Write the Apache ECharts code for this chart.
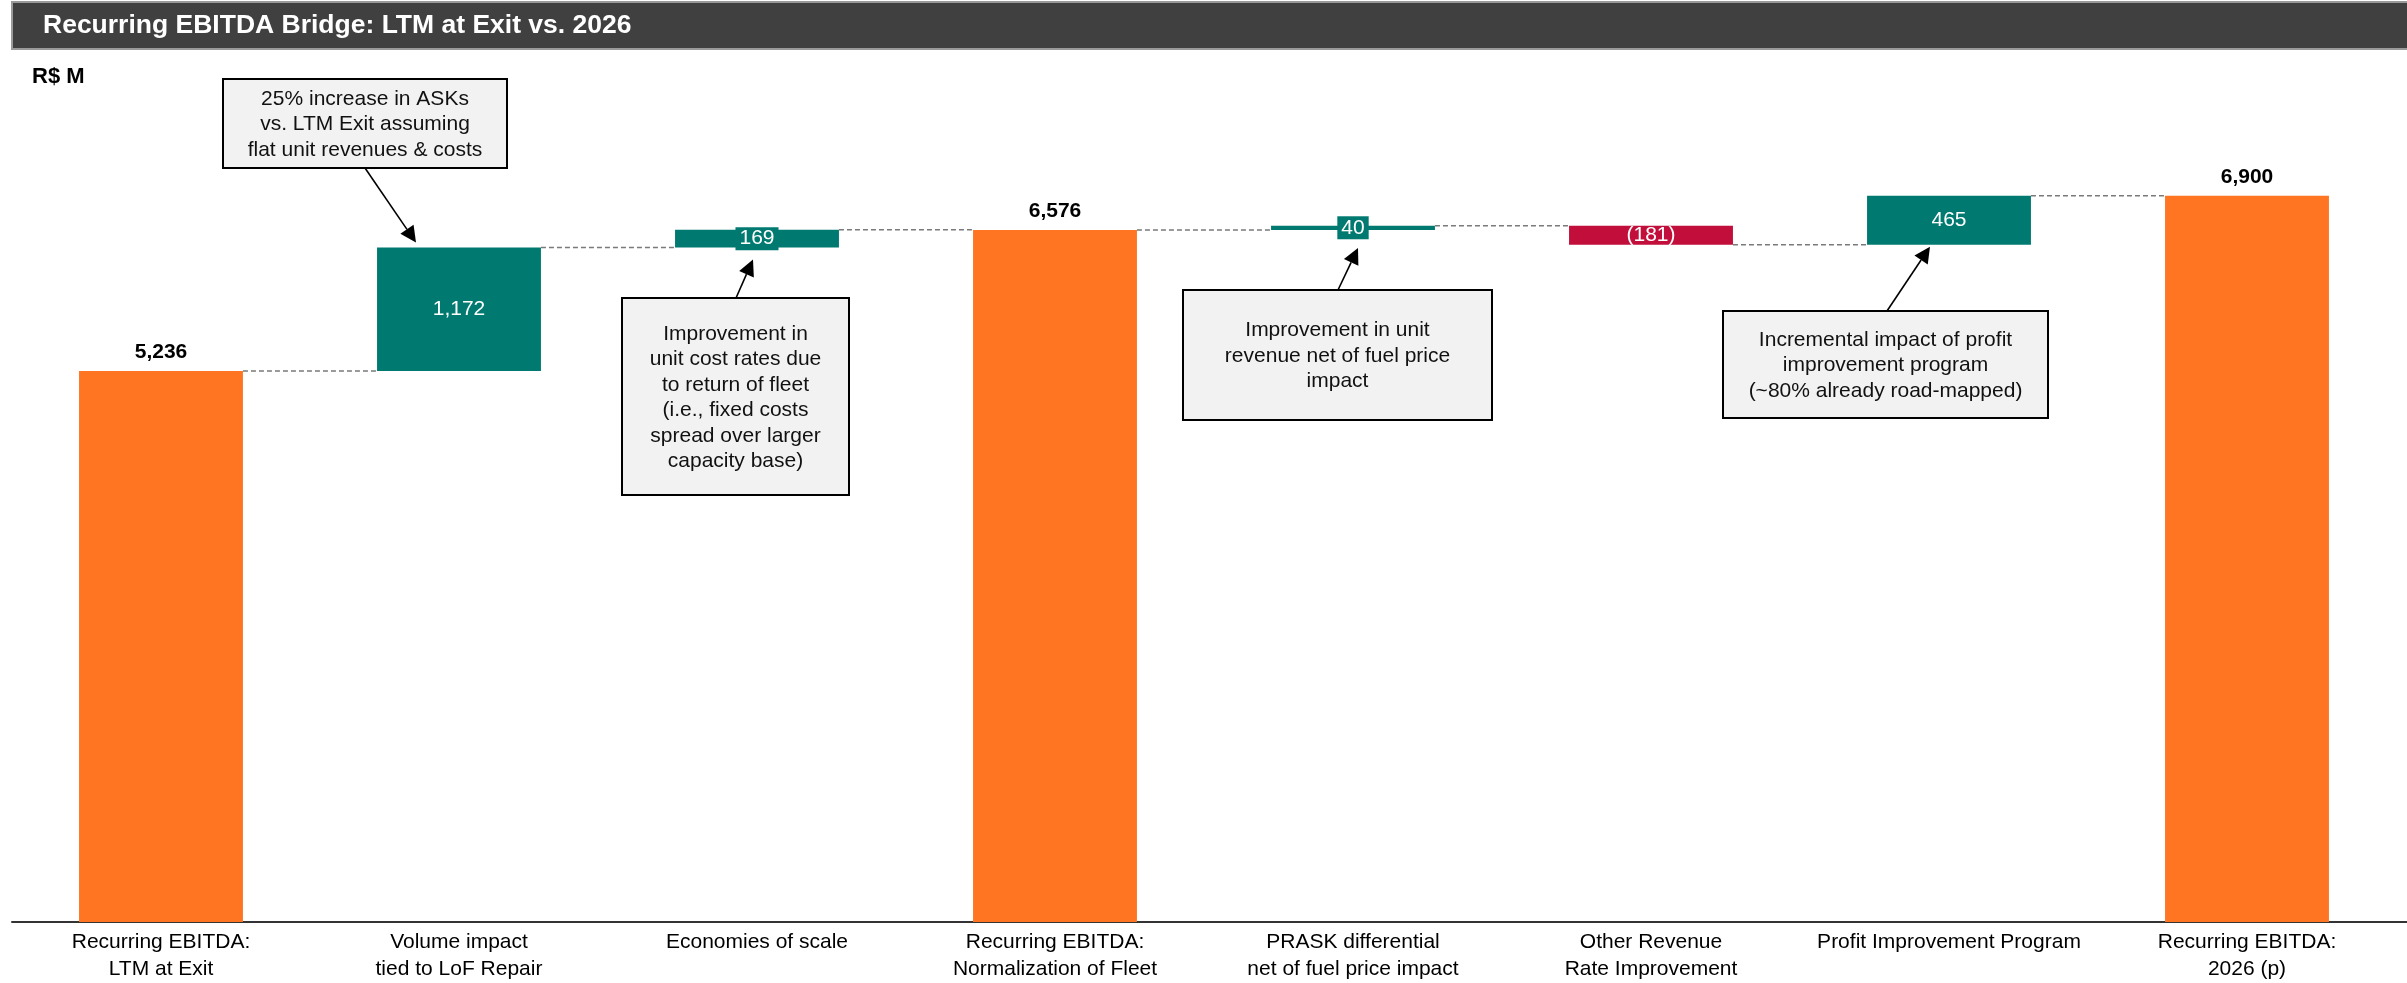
<!DOCTYPE html>
<html>
<head>
<meta charset="utf-8">
<script src="https://cdn.jsdelivr.net/npm/echarts@6/dist/echarts.min.js"></script>
<style>
html,body{margin:0;padding:0;background:#fff;}
#chart{width:2407px;height:983px;}
</style>
</head>
<body>
<div id="chart"></div>
<script>
// ---- Data ----
const categories = [
  'Recurring EBITDA:\nLTM at Exit',
  'Volume impact\ntied to LoF Repair',
  'Economies of scale',
  'Recurring EBITDA:\nNormalization of Fleet',
  'PRASK differential\nnet of fuel price impact',
  'Other Revenue\nRate Improvement',
  'Profit Improvement Program',
  'Recurring EBITDA:\n2026 (p)'
];
const amounts = [5236, 1172, 169, 6576, 40, -181, 465, 6900];
const isTotal = [true, false, false, true, false, false, false, true];
const titleText = 'Recurring EBITDA Bridge: LTM at Exit vs. 2026';
const unitText = 'R$ M';
const notes = [
  { cat: 1, text: '25% increase in ASKs\nvs. LTM Exit assuming\nflat unit revenues & costs' },
  { cat: 2, text: 'Improvement in\nunit cost rates due\nto return of fleet\n(i.e., fixed costs\nspread over larger\ncapacity base)' },
  { cat: 4, text: 'Improvement in unit\nrevenue net of fuel price\nimpact' },
  { cat: 6, text: 'Incremental impact of profit\nimprovement program\n(~80% already road-mapped)' }
];

// ---- Styles ----
const FONT = '"Liberation Sans", Arial, sans-serif';
const ORANGE = '#FF7521';
const TEAL = '#007A70';
const CRIMSON = '#C20E3B';

// ---- Waterfall build ----
const base = [], heights = [], levels = [];
let run = 0;
amounts.forEach((a, i) => {
  if (isTotal[i]) { base.push(0); heights.push(a); run = a; }
  else if (a >= 0) { base.push(run); heights.push(a); run += a; }
  else { run += a; base.push(run); heights.push(-a); }
  levels.push(run);
});
const fmt = v => Math.abs(v).toLocaleString('en-US');

const valueData = amounts.map((a, i) => {
  const color = isTotal[i] ? ORANGE : (a >= 0 ? TEAL : CRIMSON);
  const item = { value: heights[i], itemStyle: { color } };
  if (isTotal[i]) {
    item.label = { show: true, position: 'top', distance: 8, color: '#000',
      fontWeight: 'bold', fontSize: 21, fontFamily: FONT, formatter: fmt(a) };
  } else {
    item.label = { show: true, position: 'inside', color: '#fff', fontSize: 21,
      fontFamily: FONT, formatter: a >= 0 ? fmt(a) : '(' + fmt(a) + ')',
      backgroundColor: a >= 0 ? TEAL : 'transparent', padding: [1, 4] };
  }
  return item;
});

const connectorData = levels.slice(0, levels.length - 1).map((lv, i) => [i, lv]);

const chart = echarts.init(document.getElementById('chart'));
const BAR_FRAC = 0.55;
chart.setOption({
  animation: false,
  grid: { left: 12, right: 11, top: 80, bottom: 60 },
  xAxis: {
    type: 'category', data: categories,
    axisLine: { lineStyle: { color: '#333', width: 2 } },
    axisTick: { show: false },
    axisLabel: { interval: 0, color: '#000', fontSize: 21, lineHeight: 27, margin: 7, fontFamily: FONT }
  },
  yAxis: { type: 'value', min: 0, max: 8000, show: false, splitLine: { show: false } },
  series: [
    { type: 'bar', stack: 'w', data: base, barWidth: (BAR_FRAC * 100) + '%',
      itemStyle: { color: 'transparent' }, silent: true },
    { type: 'bar', stack: 'w', data: valueData, barWidth: (BAR_FRAC * 100) + '%' },
    {
      type: 'custom', data: connectorData, z: 1,
      renderItem: function (params, api) {
        const i = api.value(0), lv = api.value(1);
        const p1 = api.coord([i, lv]), p2 = api.coord([i + 1, lv]);
        const half = api.size([1, 0])[0] * BAR_FRAC / 2;
        return { type: 'line', shape: { x1: p1[0] + half, y1: p1[1], x2: p2[0] - half, y2: p2[1] },
          style: { stroke: '#7a7a7a', lineWidth: 1.5, lineDash: [5, 3] } };
      }
    }
  ]
});

// ---- Annotations ----
const boxes = [
  { x: 223, y: 79, w: 284, h: 89 },
  { x: 622, y: 298, w: 227, h: 197 },
  { x: 1183, y: 290, w: 309, h: 130 },
  { x: 1723, y: 311, w: 325, h: 107 }
];
// arrow tip relative to bar: [dx from bar center, which edge ('top'|'bottom'), dy]
const tips = [[-43, 'top', -5], [-4, 'bottom', 12], [5, 'bottom', 18], [-19, 'bottom', 2]];
const starts = [[365, 168], [736, 298], [1338, 290], [1887, 311]];

const graphics = [];
graphics.push({ type: 'rect', shape: { x: 12, y: 2, width: 2400, height: 47 },
  style: { fill: '#404040', stroke: '#9a9a9a', lineWidth: 2 }, z: 100 });
graphics.push({ type: 'text', x: 43, y: 26, z: 101,
  style: { text: titleText, fill: '#fff', font: 'bold 26.5px ' + FONT,
    align: 'left', verticalAlign: 'middle', textAlign: 'left', textVerticalAlign: 'middle' } });
graphics.push({ type: 'text', x: 32, y: 77, z: 101,
  style: { text: unitText, fill: '#000', font: 'bold 22px ' + FONT,
    align: 'left', verticalAlign: 'middle', textAlign: 'left', textVerticalAlign: 'middle' } });

// extend the axis line to the right page edge as in the reference
const axisY = chart.convertToPixel({ yAxisIndex: 0 }, 0);
graphics.push({ type: 'line', z: 5, shape: { x1: 2390, y1: axisY, x2: 2407, y2: axisY },
  style: { stroke: '#333', lineWidth: 2 } });

notes.forEach((n, k) => {
  const b = boxes[k];
  graphics.push({ type: 'rect', z: 100, shape: { x: b.x, y: b.y, width: b.w, height: b.h },
    style: { fill: '#F2F2F2', stroke: '#000', lineWidth: 2 } });
  graphics.push({ type: 'text', z: 101, x: b.x + b.w / 2, y: b.y + b.h / 2 + 1,
    style: { text: n.text, fill: '#111', font: '21px ' + FONT, lineHeight: 25.5,
      align: 'center', verticalAlign: 'middle', textAlign: 'center', textVerticalAlign: 'middle' } });
  const i = n.cat;
  const edgeVal = tips[k][1] === 'top' ? base[i] + heights[i] : base[i];
  const p = chart.convertToPixel({ xAxisIndex: 0, yAxisIndex: 0 }, [i, edgeVal]);
  const tx = p[0] + tips[k][0], ty = p[1] + tips[k][2];
  const sx = starts[k][0], sy = starts[k][1];
  const dx = tx - sx, dy = ty - sy, len = Math.sqrt(dx * dx + dy * dy);
  const ux = dx / len, uy = dy / len, nx = -uy, ny = ux;
  const L = 16, W = 8;
  const bx = tx - ux * L, by = ty - uy * L;
  graphics.push({ type: 'line', z: 100, shape: { x1: sx, y1: sy, x2: bx, y2: by },
    style: { stroke: '#000', lineWidth: 1.6 } });
  graphics.push({ type: 'polygon', z: 100,
    shape: { points: [[tx, ty], [bx + nx * W, by + ny * W], [bx - nx * W, by - ny * W]] },
    style: { fill: '#000' } });
});
chart.setOption({ graphic: graphics });
</script>
</body>
</html>
